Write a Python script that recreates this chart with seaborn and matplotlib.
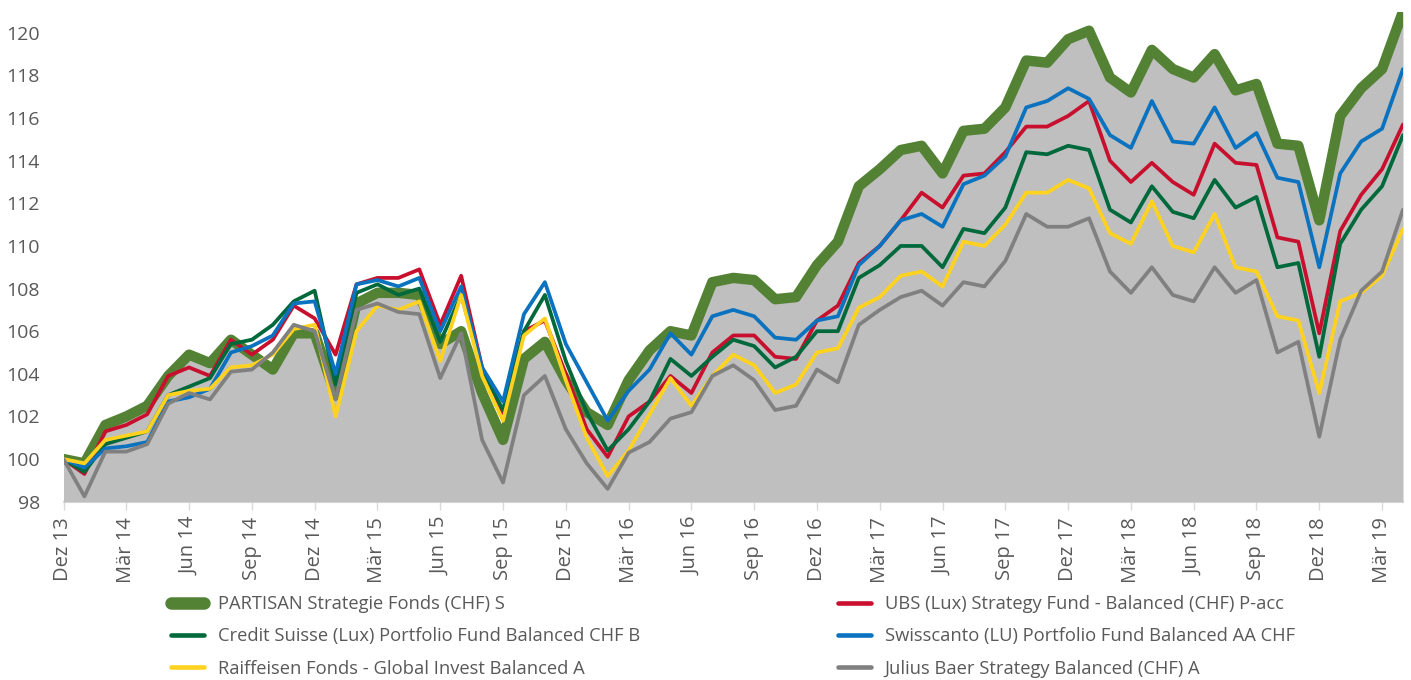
import matplotlib.pyplot as plt
import numpy as np
import pandas as pd
import seaborn as sns
from matplotlib.lines import Line2D

# monthly index values, Dez 13 = 100 ... Apr 19
months = pd.date_range("2013-12-31", periods=65, freq="ME")

partisan = [100.0, 99.8, 101.6, 102.0, 102.5, 103.9, 104.9, 104.5, 105.6, 104.9,
            104.2, 105.9, 105.9, 103.0, 107.3, 107.8, 107.8, 107.7, 105.4, 106.0,
            103.1, 100.9, 104.7, 105.5, 103.7, 102.2, 101.6, 103.7, 105.1, 106.0,
            105.8, 108.3, 108.5, 108.4, 107.5, 107.6, 109.1, 110.2, 112.8, 113.6,
            114.5, 114.7, 113.4, 115.4, 115.5, 116.5, 118.7, 118.6, 119.7, 120.1,
            117.9, 117.2, 119.2, 118.3, 117.9, 119.0, 117.3, 117.6, 114.8, 114.7,
            111.2, 116.1, 117.4, 118.3, 121.0]
ubs = [100.0, 99.3, 101.3, 101.6, 102.1, 103.9, 104.3, 103.9, 105.6, 104.9,
       105.6, 107.2, 106.6, 104.9, 108.2, 108.5, 108.5, 108.9, 106.3, 108.6,
       104.3, 102.0, 106.0, 106.5, 104.0, 101.4, 100.1, 102.0, 102.7, 103.9,
       103.1, 105.0, 105.8, 105.8, 104.8, 104.7, 106.5, 107.2, 109.2, 110.0,
       111.2, 112.5, 111.8, 113.3, 113.4, 114.4, 115.6, 115.6, 116.1, 116.8,
       114.0, 113.0, 113.9, 113.0, 112.4, 114.8, 113.9, 113.8, 110.4, 110.2,
       105.9, 110.7, 112.4, 113.6, 115.7]
credit_suisse = [100.0, 99.4, 100.7, 101.0, 101.3, 103.0, 103.4, 103.8, 105.4, 105.6,
                 106.3, 107.4, 107.9, 103.5, 107.8, 108.2, 107.7, 108.0, 105.5, 107.7,
                 104.2, 102.3, 106.0, 107.7, 104.6, 102.2, 100.4, 101.4, 102.7, 104.7,
                 103.9, 104.8, 105.6, 105.3, 104.3, 104.8, 106.0, 106.0, 108.5, 109.1,
                 110.0, 110.0, 109.0, 110.8, 110.6, 111.8, 114.4, 114.3, 114.7, 114.5,
                 111.7, 111.1, 112.8, 111.6, 111.3, 113.1, 111.8, 112.3, 109.0, 109.2,
                 104.8, 110.1, 111.7, 112.8, 115.2]
swisscanto = [100.0, 99.6, 100.5, 100.6, 100.8, 102.7, 102.9, 103.3, 105.0, 105.3,
              105.8, 107.3, 107.4, 104.0, 108.2, 108.4, 108.1, 108.5, 106.0, 108.1,
              104.3, 102.7, 106.8, 108.3, 105.4, 103.6, 101.8, 103.2, 104.2, 105.9,
              104.9, 106.7, 107.0, 106.7, 105.7, 105.6, 106.5, 106.7, 109.1, 110.0,
              111.2, 111.5, 110.9, 112.9, 113.3, 114.2, 116.5, 116.8, 117.4, 116.9,
              115.2, 114.6, 116.8, 114.9, 114.8, 116.5, 114.6, 115.3, 113.2, 113.0,
              109.0, 113.4, 114.9, 115.5, 118.3]
raiffeisen = [100.0, 99.8, 100.9, 101.1, 101.3, 103.0, 103.2, 103.3, 104.3, 104.4,
              104.9, 106.1, 106.3, 102.0, 106.0, 107.2, 107.0, 107.4, 104.6, 107.7,
              103.9, 101.8, 105.8, 106.6, 103.7, 101.0, 99.2, 100.4, 102.1, 103.8,
              102.5, 103.9, 104.9, 104.4, 103.1, 103.5, 105.0, 105.2, 107.1, 107.6,
              108.6, 108.8, 108.1, 110.2, 110.0, 111.0, 112.5, 112.5, 113.1, 112.7,
              110.6, 110.1, 112.1, 110.0, 109.7, 111.5, 109.0, 108.8, 106.7, 106.5,
              103.1, 107.4, 107.8, 108.6, 110.8]
julius_baer = [100.0, 98.25, 100.35, 100.35, 100.7, 102.6, 103.1, 102.8, 104.1, 104.2,
               105.0, 106.3, 106.0, 102.8, 107.0, 107.3, 106.9, 106.8, 103.8, 105.9,
               100.9, 98.9, 103.0, 103.9, 101.4, 99.8, 98.6, 100.3, 100.8, 101.9,
               102.2, 103.9, 104.4, 103.7, 102.3, 102.5, 104.2, 103.6, 106.3, 107.0,
               107.6, 107.9, 107.2, 108.3, 108.1, 109.3, 111.5, 110.9, 110.9, 111.3,
               108.8, 107.8, 109.0, 107.7, 107.4, 109.0, 107.8, 108.4, 105.0, 105.5,
               101.05, 105.6, 107.9, 108.8, 111.7]

tick_labels = ["Dez 13", "Mär 14", "Jun 14", "Sep 14", "Dez 14", "Mär 15", "Jun 15",
               "Sep 15", "Dez 15", "Mär 16", "Jun 16", "Sep 16", "Dez 16", "Mär 17",
               "Jun 17", "Sep 17", "Dez 17", "Mär 18", "Jun 18", "Sep 18", "Dez 18",
               "Mär 19"]

names = ["PARTISAN Strategie Fonds (CHF) S",
         "UBS (Lux) Strategy Fund - Balanced (CHF) P-acc",
         "Credit Suisse (Lux) Portfolio Fund Balanced CHF B",
         "Swisscanto (LU) Portfolio Fund Balanced AA CHF",
         "Raiffeisen Fonds - Global Invest Balanced A",
         "Julius Baer Strategy Balanced (CHF) A"]
series = [partisan, ubs, credit_suisse, swisscanto, raiffeisen, julius_baer]
colors = ["#548235", "#C8102E", "#00693C", "#0A72BE", "#FFD21F", "#808080"]
widths = [7.5, 2.7, 2.7, 2.7, 2.7, 2.7]

x = np.arange(len(months))
df = pd.concat([pd.DataFrame({"idx": x, "value": v, "fund": n})
                for n, v in zip(names, series)], ignore_index=True)

sns.set_theme(style="white")
plt.rcParams["font.family"] = ["Open Sans", "DejaVu Sans"]
plt.rcParams["lines.solid_joinstyle"] = "round"
plt.rcParams["lines.solid_capstyle"] = "round"
text_color = "#595959"

W, H = 1411, 680
fig = plt.figure(figsize=(W / 100, H / 100), dpi=100)
ax = fig.add_axes([63.5 / W, 1 - 501.7 / H, (1403 - 63.5) / W, (501.7 - 11.5) / H])

ax.fill_between(x, 98, partisan, color="#BFBFBF", linewidth=0, zorder=1)
sns.lineplot(data=df, x="idx", y="value", hue="fund", size="fund",
             hue_order=names, size_order=names,
             palette=dict(zip(names, colors)), sizes=dict(zip(names, widths)),
             legend=False, ax=ax, zorder=2)

ax.set_xlim(0, 64)
ax.set_ylim(98, 121)
ax.set_xticks(np.arange(0, 64, 3))
ax.set_xticklabels(tick_labels, rotation=90)
ax.set_yticks(np.arange(98, 121, 2))
ax.set_xlabel("")
ax.set_ylabel("")
for side in ["top", "right", "left"]:
    ax.spines[side].set_visible(False)
ax.spines["bottom"].set_color("#D9D9D9")
ax.spines["bottom"].set_linewidth(1.5)
ax.spines["bottom"].set_zorder(0.5)
ax.tick_params(axis="x", bottom=True, length=6, width=1, color="#D9D9D9",
               direction="out", pad=5, labelsize=14.5, labelcolor=text_color)
ax.tick_params(axis="y", left=False, length=0, pad=17,
               labelsize=14, labelcolor=text_color)

order = [0, 2, 4, 1, 3, 5]
handles = [Line2D([0], [0], color=colors[i], lw=widths[i] + (1.5 if i == 0 else 0.6),
                  solid_capstyle="round") for i in order]
fig.legend(handles, [names[i] for i in order], ncol=2, loc="upper left",
           bbox_to_anchor=(171 / W, 1 - 595 / H), frameon=False,
           fontsize=13.2, labelcolor=text_color, handlelength=1.8,
           handletextpad=0.75, labelspacing=0.78, columnspacing=10.8,
           borderaxespad=0, borderpad=0)

fig.savefig("out.png", dpi=100)
